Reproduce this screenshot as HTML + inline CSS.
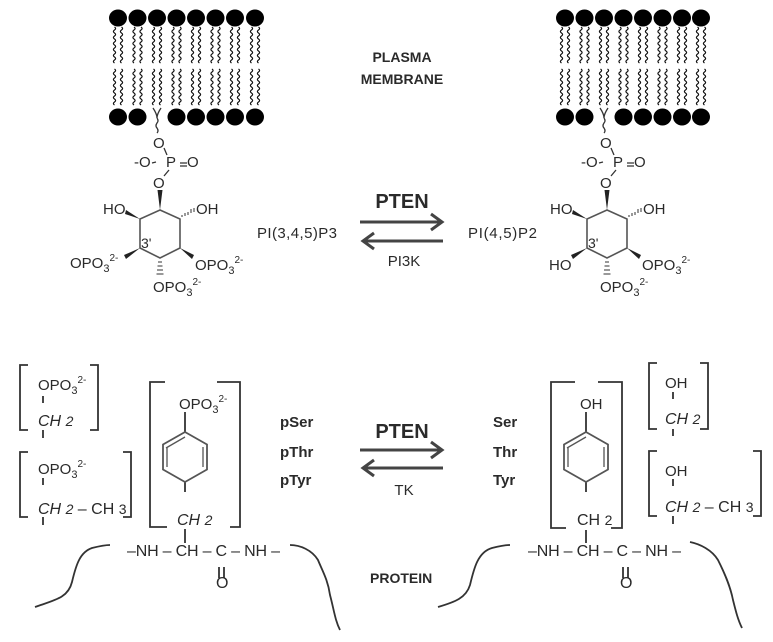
<!DOCTYPE html>
<html><head><meta charset="utf-8"><style>
html,body{margin:0;padding:0;background:#fff;}
svg{display:block;}
text{font-family:"Liberation Sans",sans-serif;fill:#2a2a2a;}
.b{font-weight:bold;}
</style></head><body>
<svg width="773" height="642" viewBox="0 0 773 642" xmlns="http://www.w3.org/2000/svg">
<defs>
<path id="t" d="M0,0 q2.2,1.5 0,3 q-2.2,1.5 0,3 q2.2,1.5 0,3 q-2.2,1.5 0,3 q2.2,1.5 0,3 q-2.2,1.5 0,3 q2.2,1.5 0,3 q-2.2,1.5 0,3 q2.2,1.5 0,3 q-2.2,1.5 0,3 q2.2,1.5 0,3 q-2.2,1.5 0,3" fill="none" stroke="#111" stroke-width="1.2"/>
<g id="col">
<use href="#t" x="-3.5" y="27"/><use href="#t" x="3.5" y="27"/>
<use href="#t" x="-3.5" y="69"/><use href="#t" x="3.5" y="69"/>
<ellipse cx="0" cy="18" rx="9" ry="8.5" fill="#000"/>
</g>
<g id="colb"><use href="#col"/><ellipse cx="0" cy="117" rx="9" ry="8.5" fill="#000"/></g>
</defs>

<!-- left membrane -->
<g>
<use href="#colb" x="118"/><use href="#colb" x="137.5"/><use href="#col" x="157"/><use href="#colb" x="176.5"/>
<use href="#colb" x="196"/><use href="#colb" x="215.5"/><use href="#colb" x="235"/><use href="#colb" x="255"/>
</g>
<!-- right membrane -->
<g>
<use href="#colb" x="565"/><use href="#colb" x="584.5"/><use href="#col" x="604"/><use href="#colb" x="623.5"/>
<use href="#colb" x="643"/><use href="#colb" x="662.5"/><use href="#colb" x="682"/><use href="#colb" x="701"/>
</g>

<text x="402" y="62" font-size="14" text-anchor="middle" class="b" fill="#333">PLASMA</text>
<text x="402" y="84" font-size="14" text-anchor="middle" class="b" fill="#333">MEMBRANE</text>

<!-- left PIP3 -->
<g id="lipid" stroke="#333" fill="none" stroke-width="1.3">
<path d="M153,108 q4,6 4,10 q0,-4 4,-10 M157,118 q2,3 0,5 q-2,3 0,5 q2,3 0,5"/>
<path d="M164,148 l3,7 M156,162 l-4,1 M180,163 h7 M180,166 h7 M169,170 l-5,6"/>
<path d="M160,210 L180,219 L180,248 L160,258 L140,248 L140,219 Z" stroke="#555" stroke-width="1.6"/>
</g>
<polygon points="160,210 157.5,190 162.5,190" fill="#222"/>
<polygon points="140,219 126,210 125,214" fill="#222"/>
<polygon points="140,248 124,255 126,259" fill="#222"/>
<polygon points="180,248 194,255 192,259" fill="#222"/>
<g stroke="#333" stroke-width="1"><path d="M182,217 v-2 M185,216 v-3 M188,215 v-3 M191,213 v-4 M194,212 v-4"/><path d="M158,262 h4 M157.5,266 h5 M157,270 h6 M156.5,274 h7"/></g>
<text x="153" y="148" font-size="15">O</text>
<text x="134" y="167" font-size="15">-O</text>
<text x="166" y="167" font-size="15">P</text>
<text x="187" y="167" font-size="15">O</text>
<text x="153" y="188" font-size="15">O</text>
<text x="103" y="214" font-size="15">HO</text>
<text x="196" y="214" font-size="15">OH</text>
<text x="141" y="248" font-size="14">3'</text>
<text x="70" y="268" font-size="15">OPO<tspan font-size="11" dy="4">3</tspan><tspan font-size="10" dy="-11">2-</tspan></text>
<text x="195" y="270" font-size="15">OPO<tspan font-size="11" dy="4">3</tspan><tspan font-size="10" dy="-11">2-</tspan></text>
<text x="153" y="292" font-size="15">OPO<tspan font-size="11" dy="4">3</tspan><tspan font-size="10" dy="-11">2-</tspan></text>

<!-- right PIP2 -->
<g transform="translate(447,0)">
<g stroke="#333" fill="none" stroke-width="1.3">
<path d="M153,108 q4,6 4,10 q0,-4 4,-10 M157,118 q2,3 0,5 q-2,3 0,5 q2,3 0,5"/>
<path d="M164,148 l3,7 M156,162 l-4,1 M180,163 h7 M180,166 h7 M169,170 l-5,6"/>
<path d="M160,210 L180,219 L180,248 L160,258 L140,248 L140,219 Z" stroke="#555" stroke-width="1.6"/>
</g>
<polygon points="160,210 157.5,190 162.5,190" fill="#222"/>
<polygon points="140,219 126,210 125,214" fill="#222"/>
<polygon points="140,248 124,255 126,259" fill="#222"/>
<polygon points="180,248 194,255 192,259" fill="#222"/>
<g stroke="#333" stroke-width="1"><path d="M182,217 v-2 M185,216 v-3 M188,215 v-3 M191,213 v-4 M194,212 v-4"/><path d="M158,262 h4 M157.5,266 h5 M157,270 h6 M156.5,274 h7"/></g>
<text x="153" y="148" font-size="15">O</text>
<text x="134" y="167" font-size="15">-O</text>
<text x="166" y="167" font-size="15">P</text>
<text x="187" y="167" font-size="15">O</text>
<text x="153" y="188" font-size="15">O</text>
<text x="103" y="214" font-size="15">HO</text>
<text x="196" y="214" font-size="15">OH</text>
<text x="141" y="248" font-size="14">3'</text>
<text x="102" y="270" font-size="15">HO</text>
<text x="195" y="270" font-size="15">OPO<tspan font-size="11" dy="4">3</tspan><tspan font-size="10" dy="-11">2-</tspan></text>
<text x="153" y="292" font-size="15">OPO<tspan font-size="11" dy="4">3</tspan><tspan font-size="10" dy="-11">2-</tspan></text>
</g>

<!-- top arrows -->
<text x="402" y="208" font-size="20" class="b" text-anchor="middle" fill="#333">PTEN</text>
<path d="M360,222 H441 M431,214 L442,222 L431,230" stroke="#444" stroke-width="3" fill="none"/>
<path d="M443,241 H364 M374,233 L363,241 L374,249" stroke="#444" stroke-width="3" fill="none"/>
<text x="404" y="266" font-size="15" text-anchor="middle" fill="#333">PI3K</text>
<text x="257" y="238" font-size="15" textLength="80" fill="#333">PI(3,4,5)P3</text>
<text x="468" y="238" font-size="15" textLength="69" fill="#333">PI(4,5)P2</text>

<!-- bottom arrows -->
<text x="402" y="438" font-size="20" class="b" text-anchor="middle" fill="#333">PTEN</text>
<path d="M360,450 H441 M431,442 L442,450 L431,458" stroke="#444" stroke-width="3" fill="none"/>
<path d="M443,468 H364 M374,460 L363,468 L374,476" stroke="#444" stroke-width="3" fill="none"/>
<text x="404" y="495" font-size="15" text-anchor="middle" fill="#333">TK</text>
<text x="280" y="427" font-size="15" class="b" fill="#555">pSer</text>
<text x="280" y="457" font-size="15" class="b" fill="#555">pThr</text>
<text x="280" y="485" font-size="15" class="b" fill="#555">pTyr</text>
<text x="493" y="427" font-size="15" class="b" fill="#555">Ser</text>
<text x="493" y="457" font-size="15" class="b" fill="#555">Thr</text>
<text x="493" y="485" font-size="15" class="b" fill="#555">Tyr</text>
<text x="370" y="583" font-size="14" class="b" fill="#333">PROTEIN</text>

<g stroke="#333" stroke-width="1.8" fill="none">
<!-- left brackets -->
<path d="M28,365 H20 V430 H28 M90,365 H98 V430 H90"/>
<path d="M28,452 H20 V517 H28 M123,452 H131 V517 H123"/>
<path d="M165,382 H150 V527 H167 M217,382 H240 V527 H230"/>
<path d="M43,396 V403 M43,430 V438 M43,478 V485 M43,517 V525"/>
<path d="M185,412 V432 M185,482 V492 M185,529 V543"/>
<path d="M185,432 L207,444.5 L207,469.5 L185,482 L163,469.5 L163,444.5 Z" stroke="#555"/>
<path d="M167,447 V467 M203,447 V467 M185,437 L166,448" stroke="#555" stroke-width="1.3"/>
<path d="M219,567 V578 M224,567 V578"/>
<path d="M35,607 C55,600 68,598 72,582 C76,565 80,552 92,548 C100,546 105,545 110,545"/>
<path d="M290,545 C300,545 312,550 318,560 C322,570 328,580 330,595 C334,610 335,620 340,630"/>
<!-- right side -->
<path d="M657,363 H649 V429 H657 M700,363 H708 V429 H700"/>
<path d="M657,451 H649 V516 H657 M753,451 H761 V516 H753"/>
<path d="M575,382 H551 V528 H566 M598,382 H622 V528 H611"/>
<path d="M673,392 V399 M673,429 V436 M673,479 V486 M673,516 V524"/>
<path d="M586,412 V432 M586,482 V492 M586,530 V543"/>
<path d="M586,432 L608,444.5 L608,469.5 L586,482 L564,469.5 L564,444.5 Z" stroke="#555"/>
<path d="M568,447 V467 M604,447 V467 M586,437 L567,448" stroke="#555" stroke-width="1.3"/>
<path d="M623,567 V578 M628,567 V578"/>
<path d="M438,607 C455,602 466,598 470,585 C474,568 478,552 492,548 C500,546 505,545 510,545"/>
<path d="M690,542 C700,544 712,550 718,560 C724,572 730,585 733,600 C736,612 738,620 742,628"/>
</g>

<text x="38" y="390" font-size="15">OPO<tspan font-size="11" dy="4">3</tspan><tspan font-size="10" dy="-11">2-</tspan></text>
<text x="38" y="426" font-size="16" font-style="italic">CH <tspan font-size="14">2</tspan></text>
<text x="38" y="474" font-size="15">OPO<tspan font-size="11" dy="4">3</tspan><tspan font-size="10" dy="-11">2-</tspan></text>
<text x="38" y="514" font-size="16"><tspan font-style="italic">CH <tspan font-size="14">2</tspan></tspan> – CH <tspan font-size="14">3</tspan></text>
<text x="179" y="409" font-size="15">OPO<tspan font-size="11" dy="4">3</tspan><tspan font-size="10" dy="-11">2-</tspan></text>
<text x="177" y="525" font-size="16" font-style="italic">CH <tspan font-size="14">2</tspan></text>
<text x="127" y="556" font-size="16" textLength="153">–NH – CH – C – NH –</text>
<text x="216" y="588" font-size="16">O</text>

<text x="580" y="409" font-size="15">OH</text>
<text x="577" y="525" font-size="16">CH <tspan font-size="14">2</tspan></text>
<text x="528" y="556" font-size="16" textLength="153">–NH – CH – C – NH –</text>
<text x="620" y="588" font-size="16">O</text>
<text x="665" y="388" font-size="15">OH</text>
<text x="665" y="424" font-size="16" font-style="italic">CH <tspan font-size="14">2</tspan></text>
<text x="665" y="476" font-size="15">OH</text>
<text x="665" y="512" font-size="16"><tspan font-style="italic">CH <tspan font-size="14">2</tspan></tspan> – CH <tspan font-size="14">3</tspan></text>
</svg>
</body></html>
